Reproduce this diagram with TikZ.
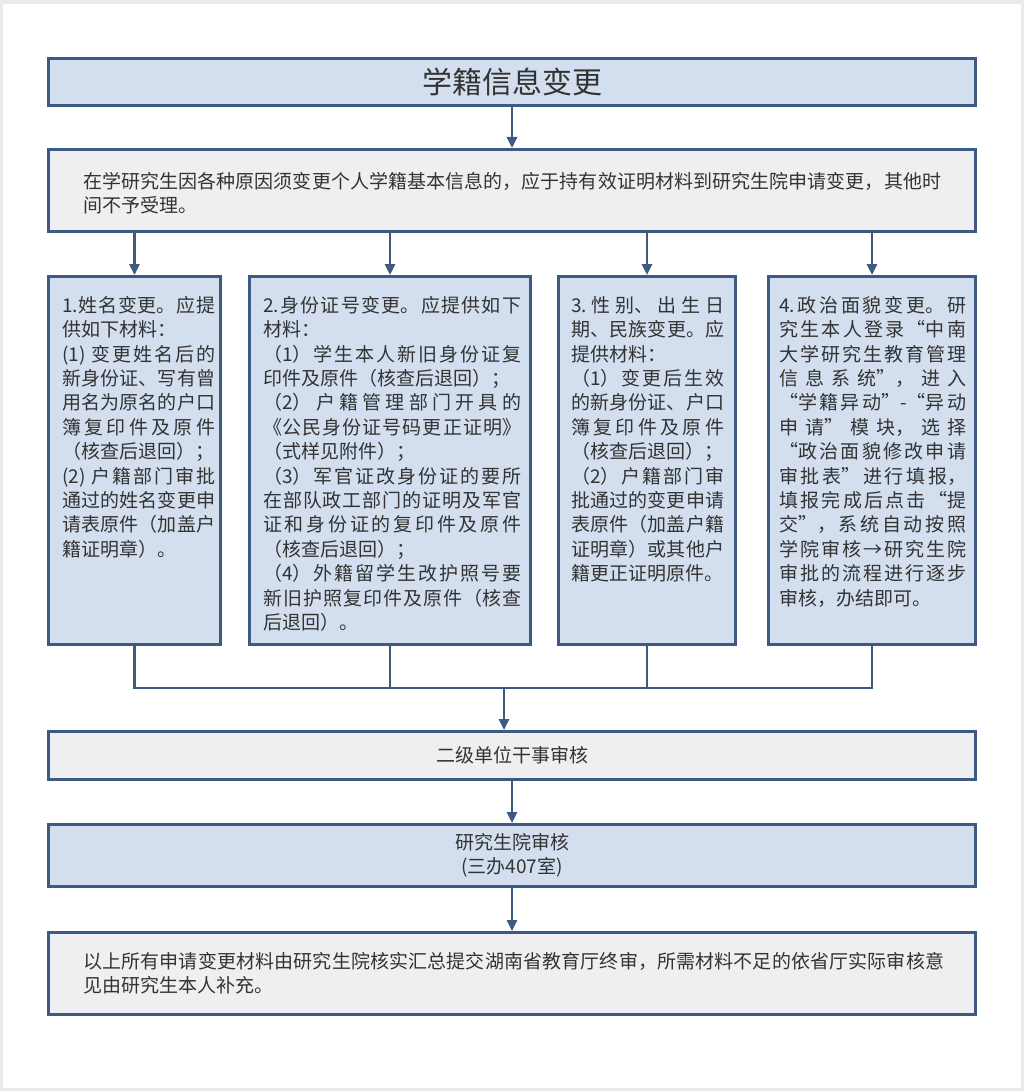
\documentclass[tikz,border=0pt]{standalone}
\usepackage{fontspec}
\setmainfont{Noto Sans CJK SC}
\usetikzlibrary{arrows.meta}
\XeTeXlinebreaklocale "zh"
\XeTeXlinebreakskip=0pt plus 2pt
\tolerance=10000
\hbadness=10000
\hfuzz=3pt
\setlength{\parindent}{0pt}
\setlength{\parskip}{0pt}
\definecolor{bordc}{HTML}{3C5A82}
\definecolor{bluef}{HTML}{D3DFEF}
\definecolor{grayf}{HTML}{EFEFF2}
\definecolor{txtc}{HTML}{333333}
\definecolor{framegray}{HTML}{EBEBEB}
\tikzset{
  box/.style={draw=bordc, line width=2.6pt, rectangle, inner sep=0pt, text=txtc, font=\fontsize{19}{24}\selectfont},
  bbox/.style={box, fill=bluef},
  gbox/.style={box, fill=grayf},
  txt/.style={anchor=north west, inner sep=0pt, align=justify, text=txtc, font=\fontsize{19}{24.4}\selectfont},
  conn/.style={draw=bordc, line width=2.6pt, line join=miter},
  arr/.style={conn, -{Triangle[length=11pt,width=10pt]}}
}
\begin{document}
\begin{tikzpicture}[x=1pt,y=-1pt]
\useasboundingbox (0,0) rectangle (1024,1091);
\fill[framegray] (0,0) rectangle (1024,1091);
\fill[white] (3,4) rectangle (1021,1088);

% boxes
\node[bbox, minimum width=927.4, minimum height=47.4, font=\fontsize{30}{36}\selectfont] (title) at (512,82) {学籍信息变更};
\node[gbox, minimum width=927.4, minimum height=82.4] (intro) at (512,190.5) {};
\node[bbox, minimum width=172.4, minimum height=368.4] (col1) at (134.5,460.5) {};
\node[bbox, minimum width=281.4, minimum height=368.4] (col2) at (390,460.5) {};
\node[bbox, minimum width=177.4, minimum height=368.4] (col3) at (647,460.5) {};
\node[bbox, minimum width=207.4, minimum height=368.4] (col4) at (872,460.5) {};
\node[gbox, minimum width=927.4, minimum height=48.4] (unit) at (512,755.5) {二级单位干事审核};
\node[bbox, minimum width=927.4, minimum height=62.4, align=center] (grad) at (512,855.5) {研究生院审核\\(三办407室)};
\node[gbox, minimum width=927.4, minimum height=82.4] (final) at (512,973.5) {};

% texts
\node[txt, text width=858] (introtxt) at (83,171) {\rule{0pt}{17pt}在学研究生因各种原因须变更个人学籍基本信息的，应于持有效证明材料到研究生院申请变更，其他时\linebreak 间不予受理。};

\node[txt, text width=153] (t1) at (62,295) {\rule{0pt}{17pt}1.姓名变更。应提\linebreak 供如下材料：\par (1) 变更姓名后的\linebreak 新身份证、写有曾\linebreak 用名为原名的户口\linebreak 簿复印件及原件\linebreak （核查后退回）；\par (2) 户籍部门审批\linebreak 通过的姓名变更申\linebreak 请表原件（加盖户\linebreak 籍证明章）。};

\node[txt, text width=258] (t2) at (263,295) {\rule{0pt}{17pt}2.身份证号变更。应提供如下\linebreak 材料：\par （1）学生本人新旧身份证复\linebreak 印件及原件（核查后退回）；\par （2）户籍管理部门开具的\linebreak 《公民身份证号码更正证明》\linebreak （式样见附件）；\par （3）军官证改身份证的要所\linebreak 在部队政工部门的证明及军官\linebreak 证和身份证的复印件及原件\linebreak （核查后退回）；\par （4）外籍留学生改护照号要\linebreak 新旧护照复印件及原件（核查\linebreak 后退回）。};

\node[txt, text width=153] (t3) at (571,295) {\rule{0pt}{17pt}3.性别、出生日\linebreak 期、民族变更。应\linebreak 提供材料：\par （1）变更后生效\linebreak 的新身份证、户口\linebreak 簿复印件及原件\linebreak （核查后退回）；\par （2）户籍部门审\linebreak 批通过的变更申请\linebreak 表原件（加盖户籍\linebreak 证明章）或其他户\linebreak 籍更正证明原件。};

\node[txt, text width=187] (t4) at (779,295) {\rule{0pt}{17pt}4.政治面貌变更。研\linebreak 究生本人登录“中南\linebreak 大学研究生教育管理\linebreak 信息系统”，进入\linebreak “学籍异动”-“异动\linebreak 申请”模块，选择\linebreak “政治面貌修改申请\linebreak 审批表”进行填报，\linebreak 填报完成后点击“提\linebreak 交”，系统自动按照\linebreak 学院审核→研究生院\linebreak 审批的流程进行逐步\linebreak 审核，办结即可。};

\node[txt, text width=861] (finaltxt) at (83,951) {\rule{0pt}{17pt}以上所有申请变更材料由研究生院核实汇总提交湖南省教育厅终审，所需材料不足的依省厅实际审核意\linebreak 见由研究生本人补充。};

% connectors
\draw[arr] (title.south) -- (intro.north);
\draw[arr] (col1.north |- intro.south) -- (col1.north);
\draw[arr] (col2.north |- intro.south) -- (col2.north);
\draw[arr] (col3.north |- intro.south) -- (col3.north);
\draw[arr] (col4.north |- intro.south) -- (col4.north);
\coordinate (mrg) at (504,688);
\draw[conn] (col1.south) |- (col4.south |- mrg) -- (col4.south);
\draw[conn] (col2.south) -- (col2.south |- mrg);
\draw[conn] (col3.south) -- (col3.south |- mrg);
\draw[arr] (mrg) -- (mrg |- unit.north);
\draw[arr] (unit.south) -- (grad.north);
\draw[arr] (grad.south) -- (final.north);
\end{tikzpicture}
\end{document}
